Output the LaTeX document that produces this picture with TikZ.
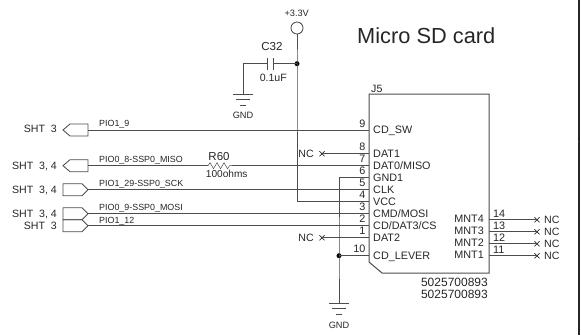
\documentclass[tikz,border=0pt]{standalone}
\usepackage{fontspec}
\setmainfont{Liberation Sans}
\usetikzlibrary{calc, positioning, shapes.misc}

\tikzset{
    wire/.style={draw=black!70, line width=0.85pt},
    lbl/.style={inner sep=0pt, text=black!85},
    tiny/.style={lbl, font=\fontsize{9.2}{10}\selectfont},
    small/.style={lbl, font=\fontsize{10.6}{11}\selectfont},
    pin/.style={lbl, font=\fontsize{10.8}{11}\selectfont, anchor=base},
    sig/.style={lbl, font=\fontsize{8.9}{9}\selectfont, anchor=base west},
    dot/.style={circle, fill=black, inner sep=0pt, minimum size=5pt},
    pt/.style={inner sep=0pt, minimum size=0pt},
    ncx/.style={cross out, draw=black, inner sep=0pt, minimum size=4.5pt, line width=0.6pt},
}

\begin{document}
\begin{tikzpicture}[x=1pt, y=-1pt]
    \useasboundingbox (0, 0) rectangle (581, 335);

    % sheet border
    \coordinate (e1) at (579, 0);
    \coordinate (e2) at (579, 335);
    \coordinate (e3) at (578, 141);
    \draw[black!85, line width=1.6pt] (e1) -- (e2);
    \draw[black!70, line width=0.5pt] (e3) -- (e1 |- e3);

    % connector
    \node[pt] (tl) at (369, 94) {};
    \node[pt] (tr) at (489, 94) {};
    \node[pt] (br) at (489, 273) {};
    \node[pt] (bc) at (382, 273) {};
    \node[pt] (lc) at (369, 262) {};
    \draw[wire, line width=1pt] (tl.center) -- (tr.center) -- (br.center) -- (bc.center) -- (lc.center) -- cycle;
    \node[small, anchor=base west] (j5) at (371, 92) {J5};
    \node[lbl, font=\fontsize{12}{13}\selectfont, anchor=base east] (part1) at (488, 286) {5025700893};
    \node[lbl, font=\fontsize{12}{13}\selectfont, anchor=base east] (part2) at (488, 298) {5025700893};
    \node[lbl, font=\fontsize{21.8}{22}\selectfont, anchor=base west] (title) at (357, 43) {Micro SD card};

    % pins on the left side
    \foreach \y/\num/\name/\id in {
        130/9/{CD\_SW}/p9,
        153.7/8/DAT1/p8,
        165.7/7/{DAT0/MISO}/p7,
        177.7/6/GND1/p6,
        189.7/5/CLK/p5,
        201.7/4/VCC/p4,
        213.7/3/{CMD/MOSI}/p3,
        225.7/2/{CD/DAT3/CS}/p2,
        237.7/1/DAT2/p1,
        255.7/10/{CD\_LEVER}/p10}{
        \node[pt] (\id) at (369, \y) {};
        \node[pin, anchor=base east] (\id n) at (365.5, \y-3) {\num};
        \node[pin, anchor=base west] (\id t) at (373, \y+3.5) {\name};
    }

    % pins on the right side
    \foreach \y/\num/\name/\id in {
        219.7/14/MNT4/m4,
        231.7/13/MNT3/m3,
        243.7/12/MNT2/m2,
        255.7/11/MNT1/m1}{
        \node[pt] (\id) at (489, \y) {};
        \node[ncx] (\id x) at (537, \y) {};
        \node[pin, anchor=base west] (\id n) at (493, \y-2.7) {\num};
        \node[pin, anchor=base east] (\id t) at (484, \y+3) {\name};
        \node[small, anchor=base west] (\id nc) at (544, \y+3.5) {NC};
        \draw[wire] (\id.center) -- (\id x.center);
    }

    % off-sheet connectors
    \node[pt] (s1) at (88, 130) {};
    \node[pt] (s2) at (88, 165.7) {};
    \node[pt] (s3) at (88, 189.7) {};
    \node[pt] (s4) at (88, 213.7) {};
    \node[pt] (s5) at (88, 225.7) {};
    \draw[wire] (s1.center) -- ++(0, -6) -- ++(-18, 0) -- ++(-7, 6) -- ++(7, 6) -- ++(18, 0) -- cycle;
    \draw[wire] (s2.center) -- ++(0, -6) -- ++(-18, 0) -- ++(-7, 6) -- ++(7, 6) -- ++(18, 0) -- cycle;
    \draw[wire] (s3.center) -- ++(-6, -6) -- ++(-19, 0) -- ++(0, 12) -- ++(19, 0) -- cycle;
    \draw[wire] (s4.center) -- ++(-6, -6) -- ++(-19, 0) -- ++(0, 12) -- ++(19, 0) -- cycle;
    \draw[wire] (s5.center) -- ++(-6, -6) -- ++(-19, 0) -- ++(0, 12) -- ++(19, 0) -- cycle;
    \node[small, anchor=base east] (s1t) at (57, 132.7) {SHT\ \ 3};
    \node[small, anchor=base east] (s2t) at (57, 169) {SHT\ \ 3, 4};
    \node[small, anchor=base east] (s3t) at (57, 193) {SHT\ \ 3, 4};
    \node[small, anchor=base east] (s4t) at (57, 217) {SHT\ \ 3, 4};
    \node[small, anchor=base east] (s5t) at (57, 229) {SHT\ \ 3};
    \node[sig] (s1n) at (99, 126.7) {PIO1\_9};
    \node[sig] (s2n) at (99, 162.7) {PIO0\_8-SSP0\_MISO};
    \node[sig] (s3n) at (99, 186.7) {PIO1\_29-SSP0\_SCK};
    \node[sig] (s4n) at (99, 210.7) {PIO0\_9-SSP0\_MOSI};
    \node[sig] (s5n) at (99, 223.3) {PIO1\_12};

    % signal wires
    \node[pt] (r1) at (208, 165.7) {};
    \node[pt] (r2) at (232, 165.7) {};
    \draw[wire] (s2.center) -- (r1.center);
    \draw[wire, line width=0.5pt] (r1.center) -- ++(2, -3) -- ++(3.5, 6) -- ++(3.5, -6) -- ++(3.5, 6) -- ++(3.5, -6) -- ++(3.5, 6) -- ++(2, -3) -- (r2.center);
    \draw[wire] (r2.center) -- (p7.center);
    \draw[wire] (s1.center) -- (p9.center);
    \draw[wire] (s3.center) -- (p5.center);
    \draw[wire] (s4.center) -- (p3.center);
    \draw[wire] (s5.center) -- (p2.center);
    \node[lbl, font=\fontsize{11.5}{12}\selectfont] (r60) at (219, 156.7) {R60};
    \node[lbl, font=\fontsize{10.1}{11}\selectfont] (r60v) at (226.7, 174) {100ohms};

    % not connected
    \node[ncx] (nc8) at (322, 153.7) {};
    \node[ncx] (nc1) at (322, 237.7) {};
    \node[small] (nc8t) at (306, 153.5) {NC};
    \node[small] (nc1t) at (306, 237.5) {NC};
    \draw[wire] (nc8.center) -- (p8.center);
    \draw[wire] (nc1.center) -- (p1.center);

    % supply
    \node[circle, draw=black!70, line width=0.85pt, inner sep=0pt, minimum size=12pt] (vcc) at (297, 28) {};
    \node[tiny] (vcct) at (296.7, 13) {+3.3V};
    \node[dot] (j1) at (297, 63.7) {};
    \draw[wire] (vcc) -- (j1.center) |- (p4.center);

    % capacitor
    \node[pt] (c1) at (267, 63.7) {};
    \node[pt] (c2) at (273, 63.7) {};
    \node[pt] (g1) at (243, 94) {};
    \draw[wire] (j1.center) -- (c2.center);
    \draw[wire] (c1.center) -| (g1.center);
    \draw[wire] (c1.center) ++(0, -6) -- ++(0, 12);
    \draw[wire] (c2.center) ++(0, -6) -- ++(0, 12);
    \node[lbl, font=\fontsize{11.6}{12}\selectfont] (c32) at (272, 47) {C32};
    \node[lbl, font=\fontsize{10.6}{11}\selectfont] (c32v) at (273.3, 77.5) {0.1uF};

    % ground
    \node[pt] (g2) at (339, 303) {};
    \node[dot] (j2) at (339, 255.7) {};
    \draw[wire] (p6.center) -- (339, 177.7) -- (j2.center) -- (g2.center);
    \draw[wire] (j2.center) -- (p10.center);
    \foreach \g in {g1, g2}{
        \draw[wire] (\g.center) ++(-10, 0) -- ++(20, 0);
        \draw[wire] (\g.center) ++(-7, 5.5) -- ++(14, 0);
        \draw[wire] (\g.center) ++(-3, 11) -- ++(6, 0);
    }
    \node[tiny] (g1t) at (243, 115.7) {GND};
    \node[tiny] (g2t) at (339, 325.7) {GND};
\end{tikzpicture}
\end{document}
